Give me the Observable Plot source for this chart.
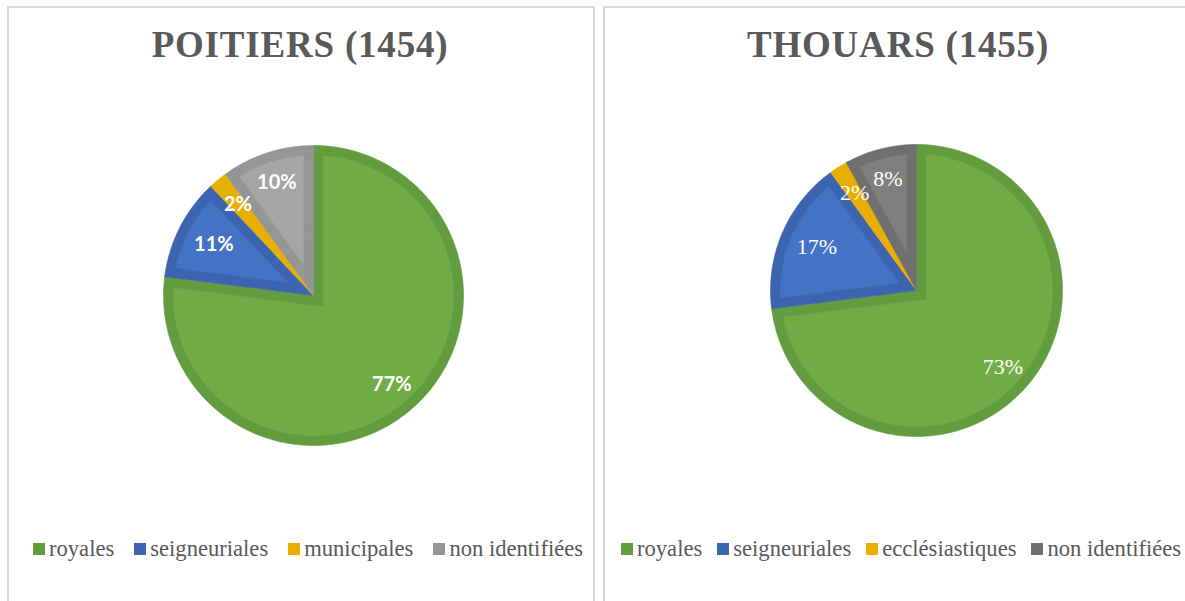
<!DOCTYPE html>
<html><head><meta charset="utf-8">
<script src="https://cdn.jsdelivr.net/npm/d3@7"></script>
<script src="https://cdn.jsdelivr.net/npm/@observablehq/plot@0.6"></script>
<style>
body{margin:0;background:#fff;width:1185px;height:601px;overflow:hidden;position:relative;}
.box{position:absolute;top:6px;height:640px;border:2px solid #d9d9d9;box-sizing:border-box;}
.title{position:absolute;top:24px;font-family:"Liberation Serif",serif;font-weight:bold;font-size:37px;line-height:1.15;color:#595959;letter-spacing:0.8px;white-space:nowrap;transform:translateX(-50%);}
.legend{position:absolute;top:536px;display:flex;align-items:center;font-family:"Liberation Serif",serif;font-size:22.6px;line-height:25px;color:#595959;white-space:nowrap;}
.legend .item{display:flex;align-items:center;}
.sw{display:inline-block;width:12px;height:12px;margin-right:4px;}
.plot{position:absolute;}
</style>
</head><body>
<div class="box" style="left:7px;width:588px;"></div>
<div class="box" style="left:603px;width:600px;"></div>
<div class="title" style="left:300px;">POITIERS (1454)</div>
<div class="title" style="left:898px;">THOUARS (1455)</div>
<div id="legend1" class="legend" style="left:33px;"></div>
<div id="legend2" class="legend" style="left:621px;"></div>
<div id="pie1" class="plot"></div>
<div id="pie2" class="plot"></div>
<script>
// ---- data ----
const categoriesPoitiers = ["royales", "seigneuriales", "municipales", "non identifiées"];
const valuesPoitiers = [77, 11, 2, 10];
const categoriesThouars = ["royales", "seigneuriales", "ecclésiastiques", "non identifiées"];
const valuesThouars = [73, 17, 2, 8];

// ---- styles ----
const fillsPoitiers = ["#70ad47", "#4472c4", "#e8ae00", "#a5a5a5"];
const bandsPoitiers = ["#629c3f", "#3d64b0", "#e8ae00", "#959595"];
const fillsThouars = ["#70ad47", "#4472c4", "#e8ae00", "#7f7f7f"];
const bandsThouars = ["#629c3f", "#3d64b0", "#e8ae00", "#6f6f6f"];

function arc(rho, b0, b1) {
  const n = Math.max(2, Math.ceil((b1 - b0) / (Math.PI / 180)));
  const pts = [];
  for (let k = 0; k <= n; k++) {
    const a = b0 + (b1 - b0) * k / n;
    pts.push({x: rho * Math.sin(a), y: rho * Math.cos(a)});
  }
  return pts;
}

function pie(el, {values, fills, bands, cx, cy, r, bandPx, labelFrac, font, fontSize, fontWeight}) {
  const size = 340;
  const h = (size / 2) / r;
  const d = bandPx / r;
  const R = 1 - d;
  const total = d3.sum(values);
  const marks = [];
  const labels = [];
  let cum = 0;
  values.forEach((v, i) => {
    const a0 = cum / total * 2 * Math.PI;
    cum += v;
    const a1 = cum / total * 2 * Math.PI;
    const th = a1 - a0;
    const am = (a0 + a1) / 2;
    const outer = [{x: 0, y: 0}, ...arc(1, a0, a1)];
    marks.push(Plot.line(outer, {x: "x", y: "y", curve: "linear-closed", fill: bands[i], stroke: bands[i], strokeWidth: 0.6}));
    const s = d / Math.sin(th / 2);
    const del = Math.asin(d / R);
    if (s + d < R && a1 - del > a0 + del) {
      const inner = [{x: s * Math.sin(am), y: s * Math.cos(am)}, ...arc(R, a0 + del, a1 - del)];
      marks.push(Plot.line(inner, {x: "x", y: "y", curve: "linear-closed", fill: fills[i], stroke: fills[i], strokeWidth: 0.6}));
    }
    const f = labelFrac - 0.05 * Math.abs(Math.sin(am)) * (Math.sin(am) < 0 && Math.cos(am) < 0.6 && Math.cos(am) > -0.6 ? 1 : 0);
    labels.push({x: f * Math.sin(am), y: f * Math.cos(am), t: v + "%"});
  });
  marks.push(Plot.text(labels, {x: "x", y: "y", text: "t", fill: "#ffffff", fontSize, fontWeight, fontFamily: font}));
  const chart = Plot.plot({
    width: size, height: size,
    margin: 0,
    x: {domain: [-h, h], axis: null},
    y: {domain: [-h, h], axis: null},
    style: {background: "transparent", overflow: "visible"},
    marks
  });
  el.style.left = (cx - size / 2) + "px";
  el.style.top = (cy - size / 2) + "px";
  el.appendChild(chart);
}

function legend(el, cats, colors, gap) {
  cats.forEach((c, i) => {
    const it = document.createElement("span");
    it.className = "item";
    if (i < cats.length - 1) it.style.marginRight = gap + "px";
    const sw = document.createElement("span");
    sw.className = "sw";
    sw.style.background = colors[i];
    it.appendChild(sw);
    it.appendChild(document.createTextNode(c));
    el.appendChild(it);
  });
}

pie(document.getElementById("pie1"), {
  values: valuesPoitiers, fills: fillsPoitiers, bands: bandsPoitiers,
  cx: 313, cy: 295, r: 150, bandPx: 10, labelFrac: 0.79,
  font: "Lato, 'Open Sans', sans-serif", fontSize: 20, fontWeight: "bold"
});
pie(document.getElementById("pie2"), {
  values: valuesThouars, fills: fillsThouars, bands: bandsThouars,
  cx: 916, cy: 290, r: 146, bandPx: 10, labelFrac: 0.79,
  font: "'Liberation Serif', serif", fontSize: 22, fontWeight: "normal"
});
legend(document.getElementById("legend1"), categoriesPoitiers, bandsPoitiers, 20);
legend(document.getElementById("legend2"), categoriesThouars, bandsThouars, 15);
</script>
</body></html>
